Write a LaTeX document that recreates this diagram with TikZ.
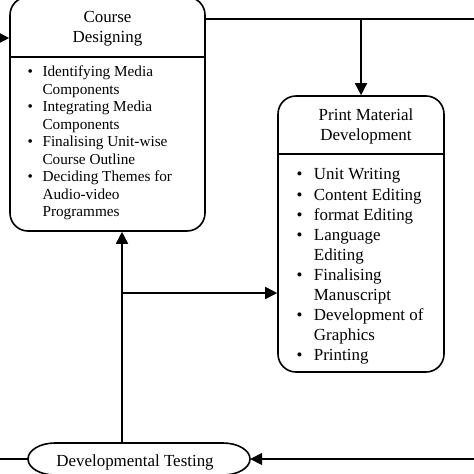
\documentclass[tikz,border=0pt]{standalone}
\usepackage{fontspec}
\setmainfont{Liberation Serif}
\usetikzlibrary{arrows.meta,calc}
\begin{document}
\begin{tikzpicture}[x=1bp,y=-1bp,
  line/.style={line width=1.6bp,black},
  arr/.style={line, -{Triangle[length=12bp,width=12bp]}},
  box/.style={draw,line width=1.6bp,rounded corners=18bp,inner sep=0pt},
  ttl/.style={inner sep=0pt,align=center,font=\fontsize{17}{20}\selectfont},
  lst/.style={inner sep=0pt,anchor=base west}]
\useasboundingbox (0,0) rectangle (474,474);
\clip (0,0) rectangle (474,474);
% Course Designing
\node[box,minimum width=195bp,minimum height=234bp] (cd) at (107.5,114) {};
\draw[line] (cd.west |- 0,57) -- (cd.east |- 0,57);
\node[ttl] (cdt) at (107.5,29) {Course\\Designing};
\node[lst] (cdl) at (27.5,77) {\fontsize{15.3}{17.5}\selectfont
  \begin{tabular}[t]{@{}l@{\hspace{9.5bp}}l@{}}
  \textbullet & Identifying Media\\
   & Components\\
  \textbullet & Integrating Media\\
   & Components\\
  \textbullet & Finalising Unit-wise\\
   & Course Outline\\
  \textbullet & Deciding Themes for\\
   & Audio-video\\
   & Programmes
  \end{tabular}};
% Print Material Development
\node[box,minimum width=166bp,minimum height=276bp] (pm) at (361,234) {};
\draw[line] (pm.west |- 0,154) -- (pm.east |- 0,154);
\node[ttl] (pmt) at (366,126) {Print Material\\Development};
\node[lst] (pml) at (296.3,180) {\fontsize{17}{20.1}\selectfont
  \begin{tabular}[t]{@{}l@{\hspace{11.5bp}}l@{}}
  \textbullet & Unit Writing\\
  \textbullet & Content Editing\\
  \textbullet & format Editing\\
  \textbullet & Language\\
   & Editing\\
  \textbullet & Finalising\\
   & Manuscript\\
  \textbullet & Development of\\
   & Graphics\\
  \textbullet & Printing
  \end{tabular}};
% Developmental Testing
\node[inner sep=0pt,minimum width=222bp,minimum height=32bp] (dt) at (139,459) {};
\draw[line] (55,443) -- (223,443) arc[start angle=90,end angle=-90,x radius=27bp,y radius=16bp]
  -- (55,475) arc[start angle=270,end angle=90,x radius=27bp,y radius=16bp] -- cycle;
\node[ttl] (dtt) at (135,462.5) {Developmental Testing};
% connectors
\coordinate (lin) at (0,38);
\draw[arr] (lin) -- (lin -| cd.west);
\coordinate (tr) at (474,19);
\draw[line] (cd.east |- tr) -- (tr);
\draw[arr] (pm.north |- tr) -- (pm.north);
\coordinate (v) at (122,293);
\draw[arr] (v |- dt.north) -- (v |- cd.south);
\draw[arr] (v) -- (v -| pm.west);
\coordinate (bl) at (0,459);
\draw[line] (bl) -- (dt.west);
\coordinate (br) at (474,459);
\draw[arr] (br) -- (dt.east);
\end{tikzpicture}
\end{document}
